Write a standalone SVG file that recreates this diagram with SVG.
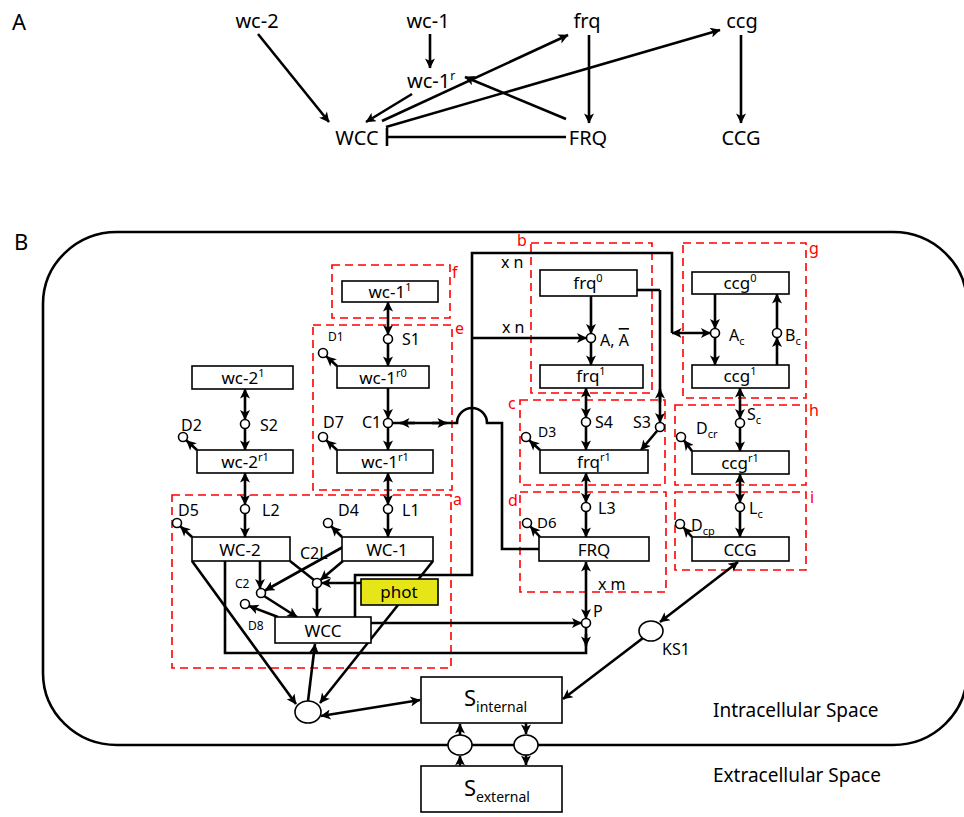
<svg xmlns="http://www.w3.org/2000/svg" width="964" height="817" viewBox="0 0 964 817">
<defs>
<marker id="ah" viewBox="0 0 10 10" refX="9.5" refY="5" markerWidth="11" markerHeight="10" markerUnits="userSpaceOnUse" orient="auto-start-reverse"><path d="M0,0 L10,5 L0,10 L2.5,5 z" fill="#000"/></marker>
<style>
text{font-family:"Noto Sans","Open Sans","Liberation Sans",sans-serif;fill:#000}
.t20{font-size:20px}
.big{font-size:22px}
.sp{font-size:19px}
.bx{font-size:17px;text-anchor:middle}
.lb{font-size:16px}
.sm{font-size:12px}
.rd{font-size:16px;fill:#ff0000}
.box{fill:#fff;stroke:#000;stroke-width:1.6}
.dash{fill:none;stroke:#ff0000;stroke-width:1.6;stroke-dasharray:8 5}
.c{fill:#fff;stroke:#000;stroke-width:1.6}
.ln{fill:none;stroke:#000;stroke-width:2.6}
.a{marker-end:url(#ah)}
.aa{marker-start:url(#ah);marker-end:url(#ah)}
</style>
</defs>

<g id="panelA">
<text class="big" x="12" y="30">A</text>
<g id="A-wc2"><text class="t20" x="257" y="28" text-anchor="middle">wc-2</text></g>
<g id="A-wc1"><text class="t20" x="428" y="28" text-anchor="middle">wc-1</text></g>
<g id="A-frq"><text class="t20" x="587" y="28" text-anchor="middle">frq</text></g>
<g id="A-ccg"><text class="t20" x="742" y="28" text-anchor="middle">ccg</text></g>
<g id="A-wc1r"><text class="t20" x="407" y="88">wc-1<tspan font-size="12" dy="-8">r</tspan></text></g>
<g id="A-WCC"><text class="t20" x="357" y="145" text-anchor="middle">WCC</text></g>
<g id="A-FRQ"><text class="t20" x="588" y="145" text-anchor="middle">FRQ</text></g>
<g id="A-CCG"><text class="t20" x="741" y="145" text-anchor="middle">CCG</text></g>
<g id="A-edges">
<path class="ln a" d="M258,34 L329,122"/>
<path class="ln a" d="M430,34 V68"/>
<path class="ln a" d="M412,94 L366,122"/>
<path class="ln a" d="M382,121 L568,35"/>
<path class="ln a" d="M386,127 L720,30"/>
<path class="ln a" d="M566,119 L465,77"/>
<path class="ln a" d="M589,35 V123"/>
<path class="ln a" d="M741,35 V123"/>
<path class="ln" d="M566,137 H387 M387,128 V146"/>
</g>
</g>

<g id="panelB">
<text class="big" x="14" y="250">B</text>
<rect id="cell" x="43" y="232" width="924" height="513" rx="74" ry="72" fill="none" stroke="#000" stroke-width="2.6"/>
<text class="sp" x="713" y="717">Intracellular Space</text>
<text class="sp" x="713" y="782">Extracellular Space</text>

<g id="regions">
<rect class="dash" x="332" y="265" width="118" height="53"/><text class="rd" x="452" y="278">f</text>
<rect class="dash" x="313" y="325" width="139" height="165"/><text class="rd" x="455" y="334">e</text>
<rect class="dash" x="172" y="495" width="279" height="173"/><text class="rd" x="453" y="505">a</text>
<rect class="dash" x="531" y="243" width="121" height="150"/><text class="rd" x="517" y="246">b</text>
<rect class="dash" x="520" y="400" width="145" height="85"/><text class="rd" x="508" y="409">c</text>
<rect class="dash" x="520" y="492" width="146" height="100"/><text class="rd" x="508" y="506">d</text>
<rect class="dash" x="683" y="243" width="123" height="155"/><text class="rd" x="809" y="254">g</text>
<rect class="dash" x="675" y="405" width="131" height="80"/><text class="rd" x="809" y="416">h</text>
<rect class="dash" x="675" y="492" width="131" height="78"/><text class="rd" x="810" y="503">i</text>
</g>

<g id="connectors">
<path class="ln" d="M192,561 L296,704" marker-end="url(#ah)"/>
<path class="ln" d="M433,561 L320,703" marker-end="url(#ah)"/>
<path class="ln" d="M355,617 V575 H472 V253 H672 V333"/>
<path class="ln aa" d="M672,333 H710.5"/>
<path class="ln a" d="M472,338 H586.5"/>
<path class="ln" d="M637,290 H660"/>
<path class="ln a" d="M660,290 V422.5"/>
<path class="ln a" d="M660,402 V389"/>
<path class="ln a" d="M657,431 L641,450"/>
<path class="ln" d="M392.5,423 H457 A15,15 0 0 1 487,423 H502 V549 H539"/>
<path class="ln a" d="M415,423 H400"/>
<path class="ln a" d="M432,423 H447"/>
<path class="ln" d="M225,561 V653 H586 V627.5"/>
<path class="ln a" d="M586,634 V646"/>
<path class="ln a" d="M371,623 H581.5"/>
<path class="ln aa" d="M586,562 V618.5"/>
<path class="ln aa" d="M388,302 V334.5"/>
<path class="ln a" d="M388,343.5 V366"/>
<path class="ln a" d="M388,388 V418.5"/>
<path class="ln a" d="M388,427.5 V450"/>
<path class="ln aa" d="M388,473 V504.5"/>
<path class="ln a" d="M388,513.5 V537"/>
<path class="ln a" d="M337,366 L326.5,356.5"/>
<path class="ln a" d="M337,450 L326.5,440.5"/>
<path class="ln a" d="M342,537 L331.5,526.5"/>
<path class="ln aa" d="M245,389 V419.5"/>
<path class="ln a" d="M245,428.5 V450"/>
<path class="ln aa" d="M245,473 V504.5"/>
<path class="ln a" d="M245,513.5 V537"/>
<path class="ln a" d="M197,450 L186.5,440.5"/>
<path class="ln a" d="M192,537 L180.5,526.5"/>
<path class="ln a" d="M260,561 V588.5"/>
<path class="ln a" d="M343,547 L265,590.5"/>
<path class="ln" d="M290,561 L314,580"/>
<path class="ln a" d="M343,561 L320.5,580"/>
<path class="ln a" d="M361,583 H321.5"/>
<path class="ln a" d="M317,587.5 V617"/>
<path class="ln a" d="M264,596 L297,617"/>
<path class="ln a" d="M278,617 L249,606"/>
<path class="ln a" d="M591,296 V333.5"/>
<path class="ln a" d="M591,342.5 V365"/>
<path class="ln aa" d="M586,388 V417.5"/>
<path class="ln a" d="M586,426.5 V450"/>
<path class="ln a" d="M540,450 L529.5,440.5"/>
<path class="ln aa" d="M586,473 V502.5"/>
<path class="ln a" d="M586,511.5 V537"/>
<path class="ln a" d="M540,537 L530.5,526.5"/>
<path class="ln a" d="M715,294 V328.5"/>
<path class="ln a" d="M715,337.5 V365"/>
<path class="ln a" d="M777,365 V337.5"/>
<path class="ln a" d="M777,328.5 V294"/>
<path class="ln aa" d="M740,388 V418.5"/>
<path class="ln a" d="M740,427.5 V451"/>
<path class="ln a" d="M692,451 L684,440.5"/>
<path class="ln aa" d="M740,474 V502.5"/>
<path class="ln a" d="M740,511.5 V537"/>
<path class="ln a" d="M692,537 L683.5,527.5"/>
<path class="ln aa" d="M738,562 L660,622"/>
<path class="ln a" d="M643,638 L563,699"/>
<path class="ln a" d="M308,701 L315,644"/>
<path class="ln aa" d="M321,716 L420,700"/>
<path class="ln a" d="M460,766 V756"/>
<path class="ln a" d="M460,735 V724"/>
<path class="ln a" d="M526,723 V734"/>
<path class="ln a" d="M526,755 V765"/>
</g>

<g id="wc-1_1"><rect class="box" x="342" y="281" width="96" height="21"/><text class="bx" x="390" y="298">wc-1<tspan font-size="11" dy="-7">1</tspan></text></g>
<g id="wc-1_r0"><rect class="box" x="337" y="366" width="92" height="22"/><text class="bx" x="383" y="384">wc-1<tspan font-size="11" dy="-7">r0</tspan></text></g>
<g id="wc-1_r1"><rect class="box" x="337" y="450" width="96" height="23"/><text class="bx" x="385" y="468">wc-1<tspan font-size="11" dy="-7">r1</tspan></text></g>
<g id="wc-2_1"><rect class="box" x="192" y="366" width="101" height="23"/><text class="bx" x="243" y="384">wc-2<tspan font-size="11" dy="-7">1</tspan></text></g>
<g id="wc-2_r1"><rect class="box" x="197" y="450" width="96" height="23"/><text class="bx" x="245" y="468">wc-2<tspan font-size="11" dy="-7">r1</tspan></text></g>
<g id="WC-2"><rect class="box" x="192" y="537" width="98" height="24"/><text class="bx" x="240" y="556">WC-2</text></g>
<g id="WC-1"><rect class="box" x="342" y="537" width="91" height="24"/><text class="bx" x="387" y="556">WC-1</text></g>
<g id="WCC"><rect class="box" x="275" y="617" width="96" height="26"/><text class="bx" x="323" y="637">WCC</text></g>
<g id="phot"><rect x="361" y="579" width="77" height="26" fill="#e5e517" stroke="#000" stroke-width="1.6"/><text class="bx" x="399" y="598">phot</text></g>
<g id="frq0"><rect class="box" x="540" y="270" width="97" height="26"/><text class="bx" x="588" y="289">frq<tspan font-size="11" dy="-7">0</tspan></text></g>
<g id="frq1"><rect class="box" x="540" y="365" width="103" height="23"/><text class="bx" x="591" y="382">frq<tspan font-size="11" dy="-7">1</tspan></text></g>
<g id="frq_r1"><rect class="box" x="540" y="450" width="108" height="23"/><text class="bx" x="594" y="468">frq<tspan font-size="11" dy="-7">r1</tspan></text></g>
<g id="FRQ"><rect class="box" x="539" y="537" width="110" height="24"/><text class="bx" x="594" y="556">FRQ</text></g>
<g id="ccg0"><rect class="box" x="692" y="272" width="97" height="22"/><text class="bx" x="740" y="289">ccg<tspan font-size="11" dy="-7">0</tspan></text></g>
<g id="ccg1"><rect class="box" x="692" y="365" width="97" height="23"/><text class="bx" x="740" y="382">ccg<tspan font-size="11" dy="-7">1</tspan></text></g>
<g id="ccg_r1"><rect class="box" x="692" y="451" width="97" height="23"/><text class="bx" x="740" y="469">ccg<tspan font-size="11" dy="-7">r1</tspan></text></g>
<g id="CCG"><rect class="box" x="692" y="537" width="97" height="24"/><text class="bx" x="740" y="556">CCG</text></g>
<g id="S_internal"><rect class="box" x="421" y="677" width="141" height="46"/><text x="464" y="706" font-size="22">S<tspan font-size="14" dy="6">internal</tspan></text></g>
<g id="S_external"><rect class="box" x="421" y="766" width="141" height="46"/><text x="464" y="796" font-size="22">S<tspan font-size="14" dy="6">external</tspan></text></g>

<g id="reactions">
<g id="S1"><circle class="c" cx="388" cy="339" r="4.5"/><text class="lb" x="402" y="345">S1</text></g>
<g id="C1"><circle class="c" cx="388" cy="423" r="4.5"/><text class="lb" x="362" y="428">C1</text></g>
<g id="L1"><circle class="c" cx="388" cy="509" r="4.5"/><text class="lb" x="402" y="516">L1</text></g>
<g id="D1"><circle class="c" cx="323" cy="353" r="4.5"/><text class="sm" x="328" y="341">D1</text></g>
<g id="D7"><circle class="c" cx="323" cy="437" r="4.5"/><text class="lb" x="323" y="428">D7</text></g>
<g id="D4"><circle class="c" cx="328" cy="523" r="4.5"/><text class="lb" x="338" y="516">D4</text></g>
<g id="S2"><circle class="c" cx="245" cy="424" r="4.5"/><text class="lb" x="260" y="431">S2</text></g>
<g id="L2"><circle class="c" cx="245" cy="509" r="4.5"/><text class="lb" x="262" y="516">L2</text></g>
<g id="D2"><circle class="c" cx="183" cy="437" r="4.5"/><text class="lb" x="181" y="431">D2</text></g>
<g id="D5"><circle class="c" cx="177" cy="523" r="4.5"/><text class="lb" x="178" y="516">D5</text></g>
<g id="C2"><circle class="c" cx="261" cy="593" r="4.5"/><text class="sm" x="235" y="588">C2</text></g>
<g id="C2L"><circle class="c" cx="317" cy="583" r="4.5"/><text class="lb" x="300" y="559">C2L</text></g>
<g id="D8"><circle class="c" cx="245" cy="604" r="4.5"/><text class="sm" x="248" y="630">D8</text></g>
<g id="A"><circle class="c" cx="591" cy="338" r="4.5"/><text class="lb" x="600" y="346">A, <tspan text-decoration="overline">A</tspan></text></g>
<g id="S4"><circle class="c" cx="586" cy="422" r="4.5"/><text class="lb" x="595" y="428">S4</text></g>
<g id="S3"><circle class="c" cx="660" cy="427" r="4.5"/><text class="lb" x="633" y="428">S3</text></g>
<g id="D3"><circle class="c" cx="526" cy="437" r="4.5"/><text x="538" y="437" font-size="14">D3</text></g>
<g id="L3"><circle class="c" cx="586" cy="507" r="4.5"/><text class="lb" x="598" y="514">L3</text></g>
<g id="D6"><circle class="c" cx="527" cy="523" r="4.5"/><text x="537" y="528" font-size="15">D6</text></g>
<g id="P"><circle class="c" cx="586" cy="623" r="4.5"/><text class="lb" x="593" y="617">P</text><text class="lb" x="598" y="590">x m</text></g>
<g id="xn"><text class="lb" x="501" y="268">x n</text><text class="lb" x="502" y="333">x n</text></g>
<g id="Ac"><circle class="c" cx="715" cy="333" r="4.5"/><text class="lb" x="729" y="341">A<tspan font-size="11" dy="4">c</tspan></text></g>
<g id="Bc"><circle class="c" cx="777" cy="333" r="4.5"/><text class="lb" x="785" y="341">B<tspan font-size="11" dy="4">c</tspan></text></g>
<g id="Sc"><circle class="c" cx="740" cy="423" r="4.5"/><text class="lb" x="747" y="420">S<tspan font-size="11" dy="4">c</tspan></text></g>
<g id="Dcr"><circle class="c" cx="681" cy="437" r="4.5"/><text class="lb" x="696" y="434">D<tspan font-size="11" dy="4">cr</tspan></text></g>
<g id="Lc"><circle class="c" cx="740" cy="507" r="4.5"/><text class="lb" x="749" y="514">L<tspan font-size="11" dy="4">c</tspan></text></g>
<g id="Dcp"><circle class="c" cx="680" cy="524" r="4.5"/><text class="lb" x="691" y="531">D<tspan font-size="11" dy="4">cp</tspan></text></g>
<g id="KS1"><ellipse class="c" cx="651" cy="631" rx="12" ry="10"/><text class="lb" x="662" y="655">KS1</text></g>
<g id="oval_in"><ellipse class="c" cx="308" cy="712" rx="13" ry="11"/></g>
<g id="transport1"><ellipse class="c" cx="460" cy="745" rx="12" ry="10"/></g>
<g id="transport2"><ellipse class="c" cx="526" cy="745" rx="12" ry="10"/></g>
</g>
</g>
</svg>
